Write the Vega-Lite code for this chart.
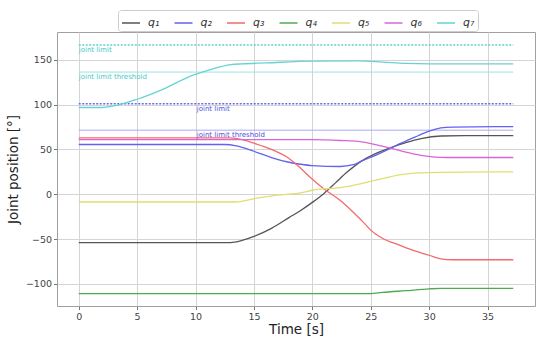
{
  "$schema": "https://vega.github.io/schema/vega-lite/v6.json",
  "autosize": {"type": "none"},
  "padding": {"left": 57, "top": 32, "right": 15, "bottom": 34},
  "width": 478,
  "height": 274,
  "background": "white",
  "config": {
    "font": "DejaVu Sans",
    "view": {"stroke": "#a0a0a0", "strokeWidth": 1},
    "axis": {
      "gridColor": "#d4d4d4",
      "gridWidth": 1,
      "domain": false,
      "tickColor": "#777",
      "tickSize": 3.5,
      "labelColor": "#444",
      "labelFontSize": 9.5,
      "titleFontWeight": "normal",
      "titleFontSize": 13.5,
      "titleColor": "#222"
    }
  },
  "datasets": {
    "joints": [
      {"t": 0, "v": -54, "joint": "q₁"}, {"t": 12.5, "v": -54, "joint": "q₁"}, {"t": 13.5, "v": -53, "joint": "q₁"}, {"t": 15, "v": -47, "joint": "q₁"}, {"t": 16.5, "v": -38, "joint": "q₁"}, {"t": 18, "v": -26, "joint": "q₁"}, {"t": 19, "v": -18, "joint": "q₁"}, {"t": 20, "v": -9, "joint": "q₁"}, {"t": 21, "v": 1, "joint": "q₁"}, {"t": 22, "v": 13, "joint": "q₁"}, {"t": 23, "v": 25, "joint": "q₁"}, {"t": 24.2, "v": 37, "joint": "q₁"}, {"t": 25.5, "v": 46, "joint": "q₁"}, {"t": 26.5, "v": 51, "joint": "q₁"}, {"t": 28, "v": 57.5, "joint": "q₁"}, {"t": 29.3, "v": 62, "joint": "q₁"}, {"t": 31, "v": 65, "joint": "q₁"}, {"t": 33, "v": 65.5, "joint": "q₁"}, {"t": 37.2, "v": 65.5, "joint": "q₁"},
      {"t": 0, "v": 55.5, "joint": "q₂"}, {"t": 12.5, "v": 55.5, "joint": "q₂"}, {"t": 13.5, "v": 54, "joint": "q₂"}, {"t": 15, "v": 48, "joint": "q₂"}, {"t": 16.5, "v": 41, "joint": "q₂"}, {"t": 17.9, "v": 36, "joint": "q₂"}, {"t": 19, "v": 33.5, "joint": "q₂"}, {"t": 20, "v": 32, "joint": "q₂"}, {"t": 22.4, "v": 31, "joint": "q₂"}, {"t": 23.5, "v": 33, "joint": "q₂"}, {"t": 24.2, "v": 37, "joint": "q₂"}, {"t": 25.5, "v": 44, "joint": "q₂"}, {"t": 26.5, "v": 50, "joint": "q₂"}, {"t": 27.6, "v": 57, "joint": "q₂"}, {"t": 29, "v": 65, "joint": "q₂"}, {"t": 30, "v": 70.5, "joint": "q₂"}, {"t": 31, "v": 74, "joint": "q₂"}, {"t": 32, "v": 75, "joint": "q₂"}, {"t": 37.2, "v": 75.5, "joint": "q₂"},
      {"t": 0, "v": 63, "joint": "q₃"}, {"t": 13, "v": 63, "joint": "q₃"}, {"t": 14, "v": 61, "joint": "q₃"}, {"t": 15, "v": 57, "joint": "q₃"}, {"t": 16.5, "v": 50, "joint": "q₃"}, {"t": 18, "v": 40, "joint": "q₃"}, {"t": 19, "v": 29, "joint": "q₃"}, {"t": 19.9, "v": 18, "joint": "q₃"}, {"t": 21, "v": 6, "joint": "q₃"}, {"t": 22.4, "v": -7, "joint": "q₃"}, {"t": 23.5, "v": -20, "joint": "q₃"}, {"t": 24.5, "v": -33, "joint": "q₃"}, {"t": 25, "v": -40, "joint": "q₃"}, {"t": 26, "v": -49, "joint": "q₃"}, {"t": 27.5, "v": -57, "joint": "q₃"}, {"t": 28.5, "v": -62, "joint": "q₃"}, {"t": 30, "v": -68, "joint": "q₃"}, {"t": 31, "v": -72, "joint": "q₃"}, {"t": 32, "v": -73, "joint": "q₃"}, {"t": 37.2, "v": -73, "joint": "q₃"},
      {"t": 0, "v": -110.8, "joint": "q₄"}, {"t": 25, "v": -110.8, "joint": "q₄"}, {"t": 26, "v": -109.5, "joint": "q₄"}, {"t": 28, "v": -107.5, "joint": "q₄"}, {"t": 30, "v": -105.5, "joint": "q₄"}, {"t": 31, "v": -105, "joint": "q₄"}, {"t": 37.2, "v": -105, "joint": "q₄"},
      {"t": 0, "v": -8.6, "joint": "q₅"}, {"t": 13.4, "v": -8.6, "joint": "q₅"}, {"t": 15, "v": -5, "joint": "q₅"}, {"t": 17, "v": -1, "joint": "q₅"}, {"t": 19, "v": 1.5, "joint": "q₅"}, {"t": 20, "v": 4.5, "joint": "q₅"}, {"t": 22.4, "v": 7.5, "joint": "q₅"}, {"t": 24.2, "v": 12, "joint": "q₅"}, {"t": 25.5, "v": 16, "joint": "q₅"}, {"t": 27.6, "v": 22, "joint": "q₅"}, {"t": 29, "v": 23.8, "joint": "q₅"}, {"t": 31, "v": 24.5, "joint": "q₅"}, {"t": 37.2, "v": 25, "joint": "q₅"},
      {"t": 0, "v": 61, "joint": "q₆"}, {"t": 20, "v": 61, "joint": "q₆"}, {"t": 22.4, "v": 60, "joint": "q₆"}, {"t": 24.2, "v": 58.4, "joint": "q₆"}, {"t": 25.5, "v": 55, "joint": "q₆"}, {"t": 26.5, "v": 52, "joint": "q₆"}, {"t": 28, "v": 47, "joint": "q₆"}, {"t": 29.3, "v": 43.5, "joint": "q₆"}, {"t": 30.5, "v": 41.5, "joint": "q₆"}, {"t": 31.5, "v": 41, "joint": "q₆"}, {"t": 37.2, "v": 41, "joint": "q₆"},
      {"t": 0, "v": 96.8, "joint": "q₇"}, {"t": 2, "v": 96.8, "joint": "q₇"}, {"t": 3, "v": 98.5, "joint": "q₇"}, {"t": 5, "v": 106, "joint": "q₇"}, {"t": 7, "v": 116, "joint": "q₇"}, {"t": 9.8, "v": 132.8, "joint": "q₇"}, {"t": 11.5, "v": 140, "joint": "q₇"}, {"t": 13, "v": 144.5, "joint": "q₇"}, {"t": 14, "v": 145.5, "joint": "q₇"}, {"t": 16, "v": 146.5, "joint": "q₇"}, {"t": 20, "v": 148.5, "joint": "q₇"}, {"t": 24, "v": 148.8, "joint": "q₇"}, {"t": 26, "v": 147.5, "joint": "q₇"}, {"t": 28, "v": 146, "joint": "q₇"}, {"t": 30, "v": 145.5, "joint": "q₇"}, {"t": 37.2, "v": 145.5, "joint": "q₇"}
    ],
    "limits": [
      {"t": 0, "v": 166.5, "kind": "q7 limit"}, {"t": 37.2, "v": 166.5, "kind": "q7 limit"},
      {"t": 0, "v": 136.3, "kind": "q7 threshold"}, {"t": 37.2, "v": 136.3, "kind": "q7 threshold"},
      {"t": 0, "v": 101, "kind": "q2 limit"}, {"t": 37.2, "v": 101, "kind": "q2 limit"},
      {"t": 0, "v": 71.5, "kind": "q2 threshold"}, {"t": 37.2, "v": 71.5, "kind": "q2 threshold"}
    ],
    "labels": [
      {"t": 0, "v": 160.5, "text": "joint limit", "joint": "q7"},
      {"t": 0, "v": 130.5, "text": "joint limit threshold", "joint": "q7"},
      {"t": 10.1, "v": 95, "text": "joint limit", "joint": "q2"},
      {"t": 10.1, "v": 66.5, "text": "joint limit threshold", "joint": "q2"}
    ]
  },
  "layer": [
    {
      "data": {"name": "limits"},
      "transform": [{"filter": "datum.kind === 'q7 limit'"}],
      "mark": {"type": "line", "color": "#5fd0d0", "strokeWidth": 1.3, "strokeDash": [2, 1.5]},
      "encoding": {
        "x": {"field": "t", "type": "quantitative", "scale": {"domain": [-1.86, 39.06], "nice": false, "zero": false},
              "axis": {"values": [0, 5, 10, 15, 20, 25, 30, 35], "title": "Time [s]", "titlePadding": 1, "labelPadding": 2}},
        "y": {"field": "v", "type": "quantitative", "scale": {"domain": [-124.6, 181], "nice": false, "zero": false},
              "axis": {"values": [-100, -50, 0, 50, 100, 150], "title": "Joint position [°]", "titlePadding": 5, "labelPadding": 2}}
      }
    },
    {
      "data": {"name": "limits"},
      "transform": [{"filter": "datum.kind === 'q7 threshold'"}],
      "mark": {"type": "line", "color": "#9ee3e3", "strokeWidth": 1},
      "encoding": {"x": {"field": "t", "type": "quantitative"}, "y": {"field": "v", "type": "quantitative"}}
    },
    {
      "data": {"name": "limits"},
      "transform": [{"filter": "datum.kind === 'q2 limit'"}],
      "mark": {"type": "line", "color": "#6a6ae8", "strokeWidth": 1.3, "strokeDash": [2, 1.5]},
      "encoding": {"x": {"field": "t", "type": "quantitative"}, "y": {"field": "v", "type": "quantitative"}}
    },
    {
      "data": {"name": "limits"},
      "transform": [{"filter": "datum.kind === 'q2 threshold'"}],
      "mark": {"type": "line", "color": "#a8a8f2", "strokeWidth": 1},
      "encoding": {"x": {"field": "t", "type": "quantitative"}, "y": {"field": "v", "type": "quantitative"}}
    },
    {
      "data": {"name": "joints"},
      "mark": {"type": "line", "strokeWidth": 1.3, "interpolate": "monotone"},
      "encoding": {
        "x": {"field": "t", "type": "quantitative"},
        "y": {"field": "v", "type": "quantitative"},
        "color": {
          "field": "joint", "type": "nominal",
          "scale": {"domain": ["q₁", "q₂", "q₃", "q₄", "q₅", "q₆", "q₇"],
                    "range": ["#555555", "#6262ee", "#f26a6a", "#4eaa4e", "#dede72", "#d866d8", "#68d2d2"]},
          "legend": {
            "title": null, "orient": "none", "direction": "horizontal", "columns": 7,
            "legendX": 61, "legendY": -22,
            "symbolType": "stroke", "symbolSize": 324, "symbolStrokeWidth": 1.5,
            "labelFontSize": 11, "labelFontStyle": "italic", "labelColor": "#333", "labelOffset": 7,
            "columnPadding": 11.5, "padding": 3,
            "strokeColor": "#cccccc", "fillColor": "white", "cornerRadius": 3
          }
        }
      }
    },
    {
      "data": {"name": "labels"},
      "transform": [{"filter": "datum.joint === 'q7'"}],
      "mark": {"type": "text", "align": "left", "baseline": "middle", "fontSize": 7, "color": "#48c8c8"},
      "encoding": {
        "x": {"field": "t", "type": "quantitative"},
        "y": {"field": "v", "type": "quantitative"},
        "text": {"field": "text"}
      }
    },
    {
      "data": {"name": "labels"},
      "transform": [{"filter": "datum.joint === 'q2'"}],
      "mark": {"type": "text", "align": "left", "baseline": "middle", "fontSize": 7, "color": "#5050e0"},
      "encoding": {
        "x": {"field": "t", "type": "quantitative"},
        "y": {"field": "v", "type": "quantitative"},
        "text": {"field": "text"}
      }
    }
  ]
}
